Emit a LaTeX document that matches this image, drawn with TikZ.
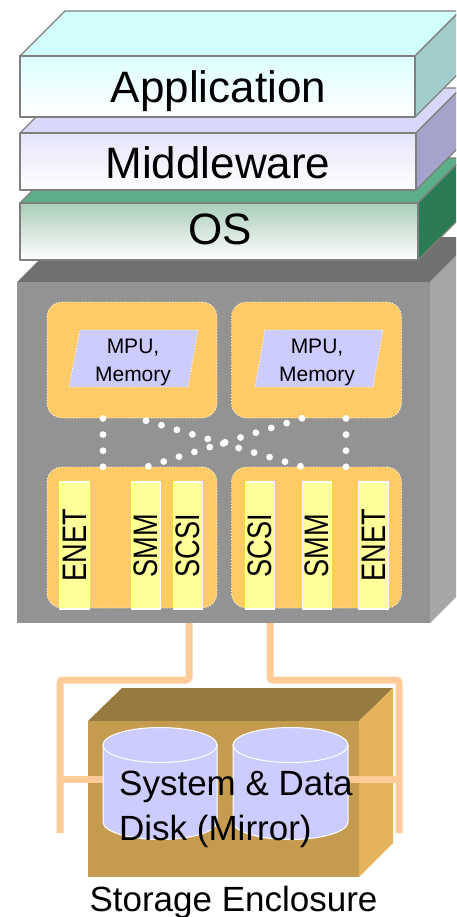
\documentclass[tikz,border=0pt]{standalone}
\usepackage{fontspec}
\setmainfont{Liberation Sans}
\definecolor{edgegray}{HTML}{7F7F7F}
\definecolor{apptop}{HTML}{D2FDFD}
\definecolor{appside}{HTML}{A3CDCC}
\definecolor{appfront}{HTML}{DDFFFF}
\definecolor{mwtop}{HTML}{D8D8F8}
\definecolor{mwside}{HTML}{A3A3CC}
\definecolor{mwfront}{HTML}{E4E4FA}
\definecolor{ostop}{HTML}{5BAF88}
\definecolor{osside}{HTML}{2B7B55}
\definecolor{osfront}{HTML}{A9CDB9}
\definecolor{graytop}{HTML}{707070}
\definecolor{grayfront}{HTML}{939393}
\definecolor{grayside}{HTML}{A6A6A6}
\definecolor{boxorange}{HTML}{FFCB66}
\definecolor{mpublue}{HTML}{CCCCFF}
\definecolor{stripyellow}{HTML}{FFFF99}
\definecolor{cablepeach}{HTML}{FFCC99}
\definecolor{enctop}{HTML}{977A3D}
\definecolor{encfront}{HTML}{C59B4F}
\definecolor{encside}{HTML}{E3B45A}
\begin{document}
\begin{tikzpicture}[x=1pt,y=-1pt,
  layeredge/.style={draw=edgegray, line width=1.2pt, line join=round},
  layertext/.style={font=\fontsize{44}{48}\selectfont, inner sep=0pt},
  obox/.style={rounded corners=15pt, fill=boxorange, draw=white, dotted, line width=0.9pt, minimum width=170pt, inner sep=0pt},
  para/.style={fill=mpublue, draw=white, dotted, line width=0.9pt},
  mputext/.style={font=\fontsize{21}{28}\selectfont, align=center, inner sep=0pt},
  stripbox/.style={fill=stripyellow, draw=white, line width=1.2pt, rotate=90, minimum width=127pt, minimum height=29.5pt, inner sep=0pt},
  dotsline/.style={draw=white, line width=6.8pt, line cap=round, dash pattern=on 0pt off 16.1pt},
  cable/.style={draw=cablepeach, line width=7pt, rounded corners=3pt},
  cyl/.style={fill=mpublue, draw=white, line width=1pt},
  bigtext/.style={font=\fontsize{35}{45}\selectfont, inner sep=0pt}
]
\useasboundingbox (0,0) rectangle (456,917);
\clip (0,0) rectangle (456,917);

% ---- server box ----
\fill[graytop] (17,282) -- (62,237) -- (475,237) -- (430,282) -- cycle;
\fill[grayside] (430,282) -- (475,237) -- (475,578) -- (430,623) -- cycle;
\fill[grayfront] (17,282) rectangle (430,623);

% ---- OS ----
\filldraw[layeredge, fill=ostop] (20,203) -- (65,158) -- (463,158) -- (418,203) -- cycle;
\filldraw[layeredge, fill=osside] (418,203) -- (463,158) -- (463,215) -- (418,260) -- cycle;
\draw[layeredge, top color=osfront, bottom color=white] (20,203) rectangle (418,260);
\node[layertext, anchor=base] (os) at (220,244) {OS};

% ---- Middleware ----
\filldraw[layeredge, fill=mwtop] (20,133) -- (65,88) -- (461,88) -- (416,133) -- cycle;
\filldraw[layeredge, fill=mwside] (416,133) -- (461,88) -- (461,145) -- (416,190) -- cycle;
\draw[layeredge, top color=mwfront, bottom color=white] (20,133) rectangle (416,190);
\node[layertext, anchor=base] (mw) at (218,179) {Middleware};

% ---- Application ----
\filldraw[layeredge, fill=apptop] (20,56) -- (65,11) -- (460,11) -- (415,56) -- cycle;
\filldraw[layeredge, fill=appside] (415,56) -- (460,11) -- (460,72) -- (415,117) -- cycle;
\draw[layeredge, top color=appfront, bottom color=white] (20,56) rectangle (415,117);
\node[layertext, anchor=base] (app) at (218.5,103) {Application};

% ---- MPU boxes ----
\node[obox, minimum height=116pt] (ul) at (132,360) {};
\node[obox, minimum height=116pt] (ur) at (316.5,360) {};
\filldraw[para] (80,330) -- (198,330) -- (188,387) -- (69,387) -- cycle;
\filldraw[para] (265,330) -- (383,330) -- (373,387) -- (255,387) -- cycle;
\node[mputext] (mpu1) at (133,362) {MPU,\\Memory};
\node[mputext] (mpu2) at (317,362) {MPU,\\Memory};

% ---- I/O boxes ----
\node[obox, minimum height=141pt] (ll) at (132,537.5) {};
\node[obox, minimum height=141pt] (lr) at (316.5,537.5) {};

\node[stripbox] (enet1) at (74.5,545.5) {\scalebox{0.8}[1]{\fontsize{34}{34}\selectfont ENET}};
\node[stripbox] (smm1) at (146,545.5) {\scalebox{0.8}[1]{\fontsize{34}{34}\selectfont SMM}};
\node[stripbox] (scsi1) at (188,545.5) {\scalebox{0.8}[1]{\fontsize{34}{34}\selectfont SCSI}};
\node[stripbox] (scsi2) at (260,545.5) {\scalebox{0.8}[1]{\fontsize{34}{34}\selectfont SCSI}};
\node[stripbox] (smm2) at (317,545.5) {\scalebox{0.8}[1]{\fontsize{34}{34}\selectfont SMM}};
\node[stripbox] (enet2) at (373.5,545.5) {\scalebox{0.8}[1]{\fontsize{34}{34}\selectfont ENET}};

% ---- dotted interconnects ----
\coordinate (ulA) at (103,418.5);
\coordinate (ulB) at (146,420.7);
\coordinate (urA) at (302,418.3);
\coordinate (urB) at (346,418.5);
\coordinate (llA) at (103,467);
\coordinate (llB) at (147,466.7);
\coordinate (lrA) at (302,466.7);
\coordinate (lrB) at (346,467);
\draw[dotsline] (ulA) -- (llA);
\draw[dotsline] (urB) -- (lrB);
\draw[dotsline] (ulB) -- (lrA);
\draw[dotsline] (urA) -- (llB);

% ---- storage enclosure ----
\fill[enctop] (88,721) -- (122,688) -- (393,688) -- (359,721) -- cycle;
\fill[encside] (359,721) -- (393,688) -- (393,843) -- (359,877) -- cycle;
\fill[encfront] (88,721) rectangle (359,877);

% ---- cables ----
\coordinate (scsiL) at (189,623);
\coordinate (scsiR) at (270,623);
\coordinate (cL) at (60,833);
\coordinate (cR) at (399,833);
\coordinate (brL) at (60,779);
\coordinate (brR) at (399,779);
\coordinate (diskL) at (104,779);
\coordinate (diskR) at (347,779);
\draw[cable] (scsiL) -- (189,680) -- (60,680) -- (cL);
\draw[cable] (scsiR) -- (270,680) -- (399,680) -- (cR);
\draw[cable] (brL) -- (diskL);
\draw[cable] (brR) -- (diskR);

% ---- disks ----
\filldraw[cyl] (103,745) -- (103,822) arc[start angle=180, end angle=0, x radius=57, y radius=17.5] -- (217,745) -- cycle;
\filldraw[cyl] (160,745) ellipse[x radius=57, y radius=17.5];
\filldraw[cyl] (233,745) -- (233,822) arc[start angle=180, end angle=0, x radius=57.5, y radius=17.5] -- (348,745) -- cycle;
\filldraw[cyl] (290.5,745) ellipse[x radius=57.5, y radius=17.5];

\node[bigtext, align=left, anchor=north west] (disktext) at (119,771) {System \& Data\\Disk (Mirror)};
\node[bigtext, anchor=base] (encl) at (233.5,911) {Storage Enclosure};
\end{tikzpicture}
\end{document}
